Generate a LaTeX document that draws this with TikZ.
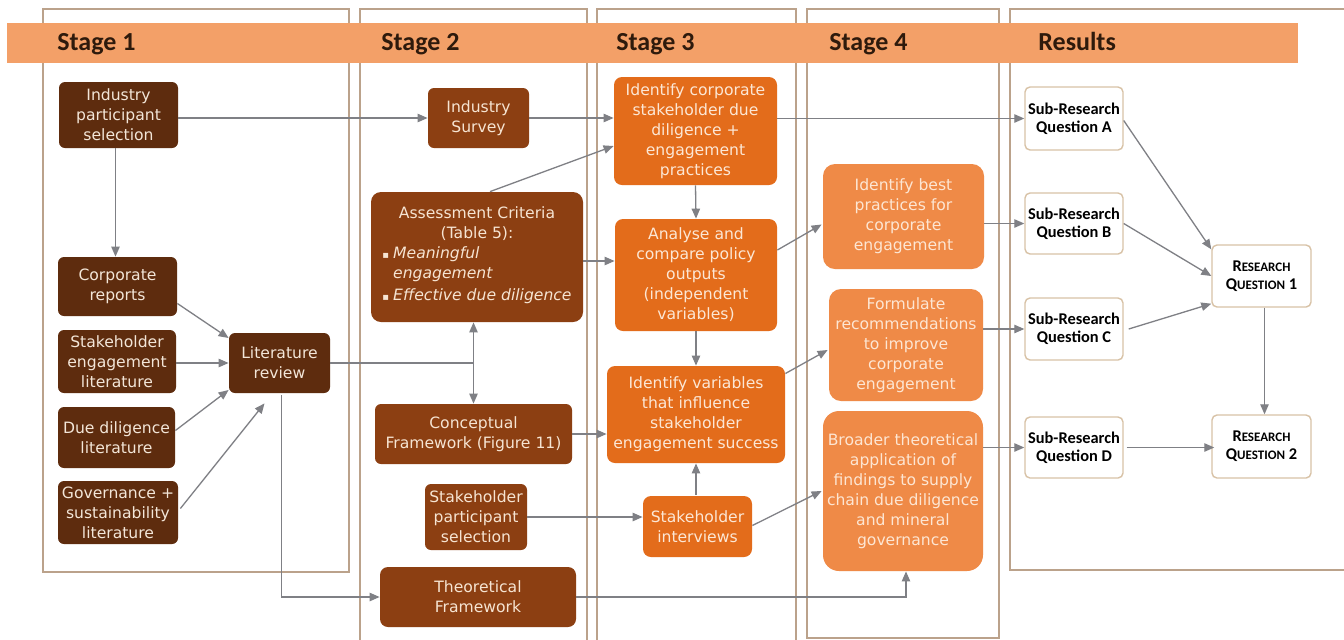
\documentclass[tikz,border=0pt]{standalone}
\usepackage{fontspec}
\setmainfont{DejaVu Sans}
\newfontfamily\ttlfont{Carlito}
\usetikzlibrary{arrows.meta,calc}
\definecolor{cA}{HTML}{5E2C0E}
\definecolor{cB}{HTML}{8C3F12}
\definecolor{cC}{HTML}{E36C1B}
\definecolor{cD}{HTML}{EF8A47}
\definecolor{tA}{HTML}{F3E6D8}
\definecolor{tB}{HTML}{F6E4D2}
\definecolor{tC}{HTML}{FCE7D5}
\definecolor{tD}{HTML}{FDE6D3}
\definecolor{hdr}{HTML}{F3A068}
\definecolor{fr}{HTML}{BBA28B}
\definecolor{rb}{HTML}{D8C2A6}
\definecolor{ar}{HTML}{7F8085}
\definecolor{tt}{HTML}{2E1A0C}
\begin{document}
\begin{tikzpicture}[x=0.5pt,y=-0.5pt,
  box/.style={rounded corners=3pt, inner sep=1pt, align=center, font=\fontsize{7.8}{10}\selectfont},
  sA/.style={box, fill=cA, text=tA},
  sB/.style={box, fill=cB, text=tB},
  sC/.style={box, fill=cC, text=tC, rounded corners=4pt},
  sD/.style={box, fill=cD, text=tD, rounded corners=6pt},
  res/.style={draw=rb, fill=white, rounded corners=2.5pt, line width=0.7pt, align=center, inner sep=1pt,
    minimum width=49pt, text=black, font=\ttlfont\bfseries\fontsize{8.2}{9}\selectfont},
  arr/.style={draw=ar, line width=0.65pt, -{Triangle[length=5pt,width=4.2pt]}},
  dbl/.style={draw=ar, line width=0.65pt, {Triangle[length=5pt,width=4.2pt]}-{Triangle[length=5pt,width=4.2pt]}},
  ln/.style={draw=ar, line width=0.65pt},
  frame/.style={draw=fr, line width=0.7pt},
  ttl/.style={anchor=base west, inner sep=0pt, text=tt, font=\ttlfont\bfseries\fontsize{13}{15}\selectfont}]
\useasboundingbox (0,0) rectangle (1344,639);
\fill[white] (0,0) rectangle (1344,639);
% stage frames
\draw[frame] (43,9) rectangle (349,572);
\draw[frame] (360,645) -- (360,9) -- (587,9) -- (587,645);
\draw[frame] (597,645) -- (597,9) -- (796,9) -- (796,645);
\draw[frame] (807,9) rectangle (999,638);
\draw[frame] (1350,9) -- (1010,9) -- (1010,570) -- (1350,570);
% header bar
\fill[hdr] (7,23) rectangle (1298,63);
\node[ttl] (t1) at (57,50) {Stage 1};
\node[ttl] (t2) at (381,50) {Stage 2};
\node[ttl] (t3) at (616,50) {Stage 3};
\node[ttl] (t4) at (829,50) {Stage 4};
\node[ttl] (t5) at (1038,50) {Results};
% stage 1
\node[sA, minimum width=59.5pt, minimum height=33pt] (ips) at (118.5,115) {Industry\\participant\\selection};
\node[sA, minimum width=59.5pt, minimum height=29.5pt] (corp) at (117.5,286.5) {Corporate\\reports};
\node[sA, minimum width=59pt, minimum height=31.5pt] (sel) at (117,361.5) {Stakeholder\\engagement\\literature};
\node[sA, minimum width=58.5pt, minimum height=30.5pt] (ddl) at (116.5,437.5) {Due diligence\\literature};
\node[sA, minimum width=60pt, minimum height=31.5pt] (gov) at (118,512.5) {Governance +\\sustainability\\literature};
\node[sA, minimum width=50.5pt, minimum height=30pt] (lit) at (279.5,363) {Literature\\review};
% stage 2
\node[sB, minimum width=50.5pt, minimum height=30pt] (survey) at (478.5,118) {Industry\\Survey};
\node[sB, minimum width=106pt, minimum height=65pt, rounded corners=5pt] (assess) at (477,257)
  {Assessment Criteria\\(Table 5):\\[1pt]
   \begin{tabular}{@{}l@{\hspace{2pt}}l@{}}
   {\fontsize{5}{10}\selectfont ▪} & \textit{Meaningful}\\
    & \textit{engagement}\\[1pt]
   {\fontsize{5}{10}\selectfont ▪} & \textit{Effective due diligence}
   \end{tabular}};
\node[sB, minimum width=98.5pt, minimum height=30pt] (concept) at (473.5,434) {Conceptual\\Framework (Figure 11)};
\node[sB, minimum width=51pt, minimum height=33pt] (sps) at (476,517) {Stakeholder\\participant\\selection};
\node[sB, minimum width=98pt, minimum height=30pt, rounded corners=4pt] (theo) at (478,597) {Theoretical\\Framework};
% stage 3
\node[sC, minimum width=81.5pt, minimum height=54pt] (icorp) at (695.5,131) {Identify corporate\\stakeholder due\\diligence +\\engagement\\practices};
\node[sC, minimum width=81pt, minimum height=56pt] (analyse) at (696,275) {Analyse and\\compare policy\\outputs\\(independent\\variables)};
\node[sC, minimum width=89pt, minimum height=48.5pt] (ivar) at (696,414.5) {Identify variables\\that influence\\stakeholder\\engagement success};
\node[sC, minimum width=54.5pt, minimum height=30.5pt] (sint) at (697.5,526.5) {Stakeholder\\interviews};
% stage 4
\node[sD, minimum width=80.5pt, minimum height=52.5pt] (best) at (903.5,216.5) {Identify best\\practices for\\corporate\\engagement};
\node[sD, minimum width=77pt, minimum height=56pt] (form) at (906,345) {Formulate\\recommendations\\to improve\\corporate\\engagement};
\node[sD, minimum width=80pt, minimum height=80pt, rounded corners=8pt] (broad) at (903,491) {Broader theoretical\\application of\\findings to supply\\chain due diligence\\and mineral\\governance};
% results
\node[res, minimum height=31.5pt] (sqa) at (1074,118.5) {Sub-Research\\Question A};
\node[res, minimum height=30.5pt] (sqb) at (1074,223.5) {Sub-Research\\Question B};
\node[res, minimum height=31pt] (sqc) at (1074,329) {Sub-Research\\Question C};
\node[res, minimum height=30.5pt] (sqd) at (1074,447.5) {Sub-Research\\Question D};
\node[res, minimum width=49.5pt, minimum height=31pt] (rq1) at (1261.5,276)
  {R{\fontsize{6.5}{9}\selectfont ESEARCH}\\Q{\fontsize{6.5}{9}\selectfont UESTION} 1};
\node[res, minimum width=49.5pt, minimum height=31.5pt] (rq2) at (1261.5,446.5)
  {R{\fontsize{6.5}{9}\selectfont ESEARCH}\\Q{\fontsize{6.5}{9}\selectfont UESTION} 2};
% connectors stage 1
\draw[arr] (ips.east |- survey.west) -- (survey.west);
\draw[arr] ([xshift=-1.5pt]ips.south) -- ([xshift=-1.5pt]ips.south |- corp.north);
\draw[arr] ($(corp.east)+(0,17)$) -- ($(lit.west)+(0,-25)$);
\draw[arr] (sel.east |- lit.west) -- (lit.west);
\draw[arr] ($(ddl.east)+(0,-7)$) -- ($(lit.west)+(0,27)$);
\draw[arr] ($(gov.east)+(2,-4)$) -- ($(lit.south)+(-15,10)$);
\draw[arr] ($(lit.south)+(2,2)$) |- (theo.west);
\coordinate (jx) at (concept.north |- lit.east);
\draw[ln] (lit.east) -- (jx);
\draw[dbl] (jx |- assess.south) -- (jx |- concept.north);
% stage 2 to 3
\draw[arr] (survey.east) -- (survey.east -| icorp.west);
\draw[arr] ($(assess.north)+(13,0)$) -- ($(icorp.west)+(0,15)$);
\coordinate (ax) at ($(assess.east)+(0,4)$);
\draw[arr] (ax) -- (ax -| analyse.west);
\draw[arr] (icorp.south) -- (analyse.north);
\draw[arr] (analyse.south) -- (analyse.south |- ivar.north);
\draw[arr] (concept.east) -- (concept.east -| ivar.west);
\draw[arr] (sps.east) -- (sps.east -| sint.west);
\draw[arr] ([yshift=0.5pt]sint.north -| ivar.south) -- (ivar.south);
% stage 3 to 4 and results
\draw[arr] (icorp.east |- sqa.west) -- (sqa.west);
\draw[arr] ($(analyse.east)+(0,-25)$) -- ($(best.west)+(-1,8)$);
\draw[arr] ($(ivar.east)+(0,-41)$) -- ($(form.west)+(-1,5)$);
\draw[arr] ($(sint.east)+(0,-1)$) -- ($(broad.west)+(-1,0)$);
\draw[arr] (theo.east) -| ([xshift=1.5pt]broad.south);
\draw[arr] (best.east |- sqb.west) -- (sqb.west);
\draw[arr] (form.east |- sqc.west) -- (sqc.west);
\draw[arr] (broad.east |- sqd.west) -- (sqd.west);
\draw[arr] ($(sqa.east)+(0,2)$) -- ($(rq1.north west)+(0,5)$);
\draw[arr] (sqb.east) -- (rq1.west);
\draw[arr] ($(sqc.east)+(5,0)$) -- ($(rq1.south west)+(0,-4)$);
\draw[arr] ([xshift=1.5pt]rq1.south) -- ([xshift=1.5pt]rq1.south |- rq2.north);
\draw[arr] ([xshift=1.5pt]sqd.east) -- ([xshift=1.5pt]sqd.east -| rq2.west);
\end{tikzpicture}
\end{document}
